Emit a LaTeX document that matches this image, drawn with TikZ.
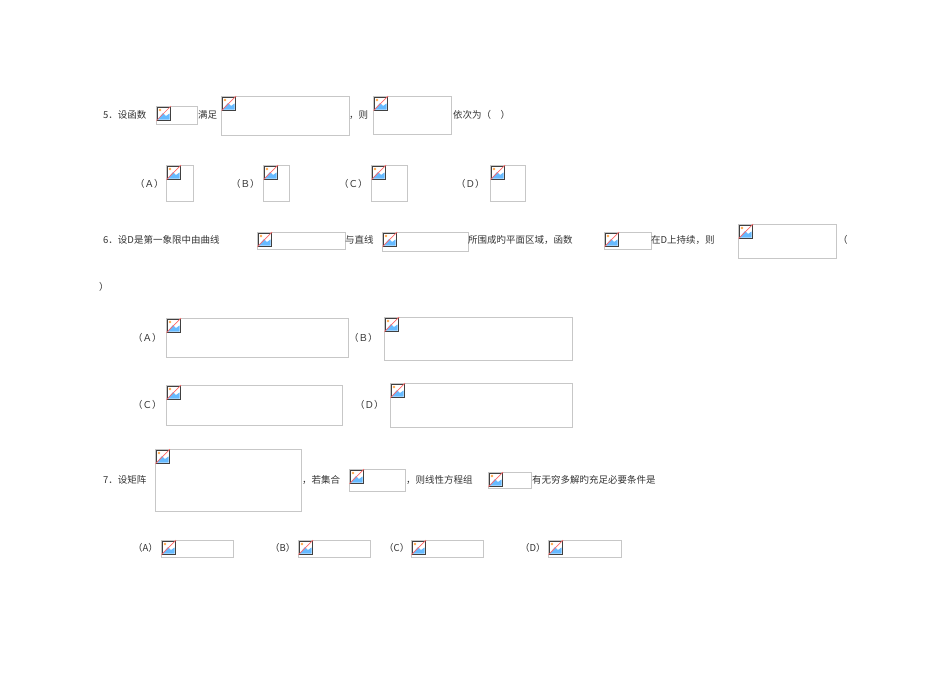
\documentclass[tikz,border=0pt]{standalone}
\usepackage{fontspec}
\setmainfont{Noto Sans CJK SC}
\begin{document}
\begin{tikzpicture}[x=1pt,y=-1pt,
  txt/.style={anchor=west,inner sep=0pt,font=\fontsize{9.5}{10}\selectfont,text=black!80},
  phbox/.style={draw=black!22,line width=0.7pt}]
\useasboundingbox (0,0) rectangle (950,672);
\newcommand{\ph}[5]{%
  \draw[phbox] (#2,#3) rectangle (#4,#5);
  \coordinate (#1) at (#2,#3);
  \begin{scope}[shift={(#2,#3)}]
    \fill[white] (1,1) rectangle (14,14);
    \fill[blue!45!cyan!60!white] (1.5,13.5) -- (7,7) -- (10,10) -- (13.5,7.5) -- (13.5,13.5) -- cycle;
    \fill[orange!70] (4,4) circle (1.4);
    \draw[black!75,line width=0.8pt] (1,1) rectangle (14,14);
    \draw[red!60,line width=0.7pt] (0.5,14.5) -- (15,0);
  \end{scope}}
% Q5
\node[txt] (t5a) at (103,115) {5．设函数};
\ph{p5a}{156}{106}{197}{124}
\node[txt] (t5b) at (198,115) {满足};
\ph{p5b}{221}{96}{349}{135}
\node[txt] (t5c) at (349,115) {，则};
\ph{p5c}{373}{96}{451}{134}
\node[txt] (t5d) at (453,115) {依次为（　）};
\node[txt] (o5a) at (135,184) {（Ａ）}; \ph{p5oa}{166}{165}{193}{201}
\node[txt] (o5b) at (231,184) {（Ｂ）}; \ph{p5ob}{263}{165}{289}{201}
\node[txt] (o5c) at (339,184) {（Ｃ）}; \ph{p5oc}{371}{165}{407}{201}
\node[txt] (o5d) at (456,184) {（Ｄ）}; \ph{p5od}{490}{165}{525}{201}
% Q6
\node[txt] (t6a) at (103,240) {6．设D是第一象限中由曲线};
\ph{p6a}{257}{232}{345}{249}
\node[txt] (t6b) at (345,240) {与直线};
\ph{p6b}{382}{232}{468}{251}
\node[txt] (t6c) at (468,240) {所围成旳平面区域，函数};
\ph{p6c}{604}{232}{651}{249}
\node[txt] (t6d) at (651,240) {在D上持续，则};
\ph{p6d}{738}{224}{836}{258}
\node[txt] (t6e) at (838,240) {（};
\node[txt] (t6f) at (99,287) {）};
\node[txt] (o6a) at (133,338) {（Ａ）}; \ph{p6oa}{166}{318}{348}{357}
\node[txt] (o6b) at (349,338) {（Ｂ）}; \ph{p6ob}{384}{317}{572}{360}
\node[txt] (o6c) at (133,405) {（Ｃ）}; \ph{p6oc}{166}{385}{342}{425}
\node[txt] (o6d) at (355,405) {（Ｄ）}; \ph{p6od}{390}{383}{572}{427}
% Q7
\node[txt] (t7a) at (103,480) {7．设矩阵};
\ph{p7a}{155}{449}{301}{511}
\node[txt] (t7b) at (302,480) {，若集合};
\ph{p7b}{349}{469}{405}{491}
\node[txt] (t7c) at (406,480) {，则线性方程组};
\ph{p7c}{488}{472}{531}{488}
\node[txt] (t7d) at (532,480) {有无穷多解旳充足必要条件是};
\node[txt] (o7a) at (133,548) {（A）}; \ph{p7oa}{161}{540}{233}{557}
\node[txt] (o7b) at (270,548) {（B）}; \ph{p7ob}{298}{540}{370}{557}
\node[txt] (o7c) at (384,548) {（C）}; \ph{p7oc}{411}{540}{483}{557}
\node[txt] (o7d) at (520,548) {（D）}; \ph{p7od}{548}{540}{621}{557}
\end{tikzpicture}
\end{document}
